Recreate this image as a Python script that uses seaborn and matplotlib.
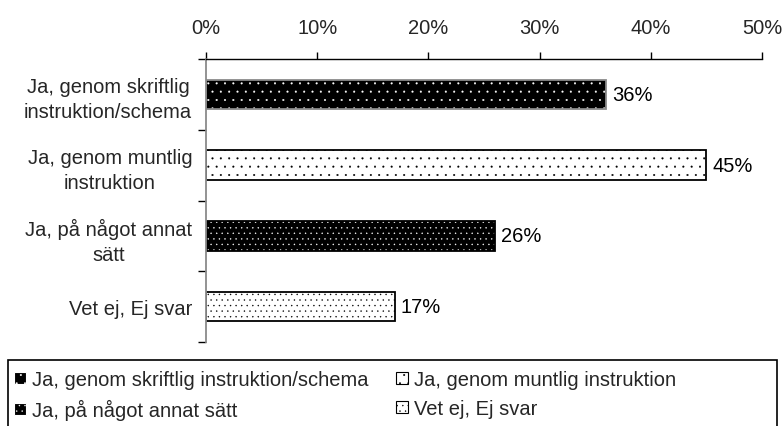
import matplotlib
matplotlib.use("Agg")
import matplotlib.pyplot as plt
import seaborn as sns
import pandas as pd
from matplotlib.patches import Rectangle, Patch

categories = [
    "Ja, genom skriftlig\ninstruktion/schema",
    "Ja, genom muntlig\ninstruktion",
    "Ja, på något annat\nsätt",
    "Vet ej, Ej svar",
]
legend_labels = [
    "Ja, genom skriftlig instruktion/schema",
    "Ja, genom muntlig instruktion",
    "Ja, på något annat sätt",
    "Vet ej, Ej svar",
]
values = [36, 45, 26, 17]
x_ticks = [0, 10, 20, 30, 40, 50]

# fill, dot colour, hatch, outline for each answer
styles = [
    ("black", "white", "..", "#8a8a8a"),
    ("white", "black", "..", "black"),
    ("black", "white", "...", "black"),
    ("white", "black", "...", "black"),
]

FS = 14.5

sns.set_theme(style="white")
plt.rcParams["font.family"] = ["Liberation Sans", "DejaVu Sans"]
plt.rcParams["hatch.linewidth"] = 0.25

df = pd.DataFrame({"cat": categories, "val": values})

fig = plt.figure(figsize=(7.84, 4.27), dpi=100)
ax = fig.add_axes([0.2628, 0.1967, 0.972 - 0.2628, 0.8595 - 0.1967])

sns.barplot(data=df, y="cat", x="val", orient="h", ax=ax, width=0.42,
            color="black", saturation=1)

for bar, (fc, hc, hatch, ec) in zip(ax.patches, styles):
    bar.set_facecolor(fc)
    bar.set_edgecolor(hc)
    bar.set_hatch(hatch)
    bar.set_linewidth(0)
    ax.add_patch(Rectangle(bar.get_xy(), bar.get_width(), bar.get_height(),
                           facecolor="none", edgecolor=ec, linewidth=1.3,
                           zorder=bar.get_zorder() + 0.1))

for bar, v in zip(ax.patches[:4], values):
    ax.text(bar.get_width() + 0.5, bar.get_y() + bar.get_height() / 2,
            f"{v}%", va="center", ha="left", fontsize=FS, color="black")

ax.set_xlim(0, 50)
ax.set_ylim(3.5, -0.5)
ax.xaxis.tick_top()
ax.set_xticks(x_ticks)
ax.set_xticklabels([f"{t}%" for t in x_ticks], fontsize=FS)
ax.tick_params(axis="x", which="major", direction="out", length=5,
               width=1, color="black", pad=11, top=True, bottom=False)

# category boundaries carry the tick marks, labels sit at the centres
ax.set_yticks([-0.5, 0.5, 1.5, 2.5, 3.5])
ax.set_yticklabels([])
ax.set_yticks(range(len(categories)), minor=True)
ax.set_yticklabels(categories, minor=True, fontsize=FS, ha="right",
                   multialignment="center", linespacing=1.4)
ax.tick_params(axis="y", which="major", direction="out", length=6,
               width=1, color="black", left=True)
ax.tick_params(axis="y", which="minor", length=0, pad=10)
ax.set_xlabel("")
ax.set_ylabel("")

for s in ["right", "bottom"]:
    ax.spines[s].set_visible(False)
ax.spines["top"].set_color("black")
ax.spines["top"].set_linewidth(1)
ax.spines["left"].set_color("#8a8a8a")
ax.spines["left"].set_linewidth(1.3)
ax.grid(False)

# legend frame
fig.add_artist(Rectangle((8 / 784, -0.01), (777 - 8) / 784, 1 - 361 / 427 + 0.01,
                         transform=fig.transFigure, facecolor="none",
                         edgecolor="black", linewidth=1.2))
handles = [Patch(facecolor=fc, edgecolor=hc, hatch=h, linewidth=0.8)
           for fc, hc, h, ec in styles]
order = [0, 2, 1, 3]
leg = fig.legend([handles[i] for i in order], [legend_labels[i] for i in order],
                 ncol=2, loc="upper left", bbox_to_anchor=(10 / 784, 1 - 367 / 427),
                 frameon=False, fontsize=FS, handlelength=0.6, handleheight=0.6,
                 handletextpad=0.3, columnspacing=1.35, labelspacing=0.5,
                 borderaxespad=0, borderpad=0.2)

fig.savefig("out.png", dpi=100)
